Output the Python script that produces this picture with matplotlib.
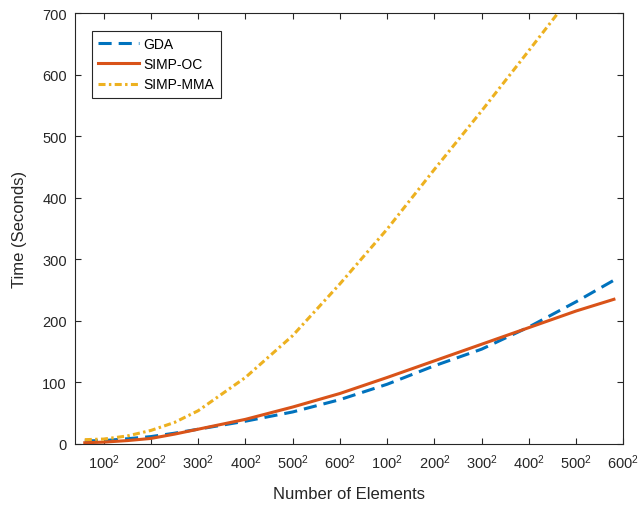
import numpy as np
import matplotlib
matplotlib.use("Agg")
import matplotlib.pyplot as plt

plt.rcParams["font.family"] = ["Liberation Sans", "DejaVu Sans"]
plt.rcParams["mathtext.fontset"] = "custom"
plt.rcParams["mathtext.rm"] = "Liberation Sans"

# side length n of the n x n mesh
n_elem = [60, 100, 150, 200, 250, 300, 400, 500, 600, 700, 800, 900, 1000, 1100, 1180]
gda = [5, 5.5, 8.5, 12, 17.5, 24, 37, 52, 72, 97, 127, 154, 190, 231, 266]
simp_oc = [2, 3, 5.5, 9, 16, 24, 40, 60, 82, 108, 135, 162, 189, 216, 235]
simp_mma = [7, 8, 13, 22, 35, 54, 108, 176, 260, 349, 446, 541, 639, 738, 815]

tick_pos = [100, 200, 300, 400, 500, 600, 700, 800, 900, 1000, 1100, 1200]
tick_lbl = [r"$\mathregular{%d^2}$" % v for v in [100, 200, 300, 400, 500, 600] * 2]

C_BLUE = "#0072BD"
C_ORANGE = "#D95319"
C_YELLOW = "#EDB120"
C_AX = "#262626"

fig = plt.figure(figsize=(6.4, 5.06), dpi=100)
ax = fig.add_axes([0.1177, 0.1206, 0.8563, 0.8517])

ax.plot(n_elem, gda, color=C_BLUE, lw=2.2, linestyle=(0, (4.3, 2.3)), label="GDA")
ax.plot(n_elem, simp_oc, color=C_ORANGE, lw=2.2, label="SIMP-OC")
ax.plot(n_elem, simp_mma, color=C_YELLOW, lw=2.2,
        linestyle=(0, (2.3, 1.1, 0.8, 1.1)), label="SIMP-MMA")

ax.set_xlim(40, 1200)
ax.set_ylim(0, 700)
ax.set_xticks(tick_pos)
ax.set_xticklabels(tick_lbl)
ax.set_yticks(np.arange(0, 701, 100))

ax.tick_params(direction="in", length=4, width=0.8, color=C_AX,
               labelsize=10.5, labelcolor=C_AX, top=True, right=True, pad=6)
for s in ax.spines.values():
    s.set_color(C_AX)
    s.set_linewidth(0.8)

ax.set_xlabel("Number of Elements", fontsize=12, color=C_AX, labelpad=11)
ax.set_ylabel("Time (Seconds)", fontsize=12, color=C_AX, labelpad=11)

leg = ax.legend(loc="upper left", bbox_to_anchor=(0.018, 0.975), fontsize=10,
                handlelength=2.9, handletextpad=0.35, fancybox=False,
                framealpha=1, edgecolor=C_AX, borderpad=0.45,
                borderaxespad=0.5, labelspacing=0.45)
leg.get_frame().set_linewidth(0.8)

fig.savefig("out.png", dpi=100)
